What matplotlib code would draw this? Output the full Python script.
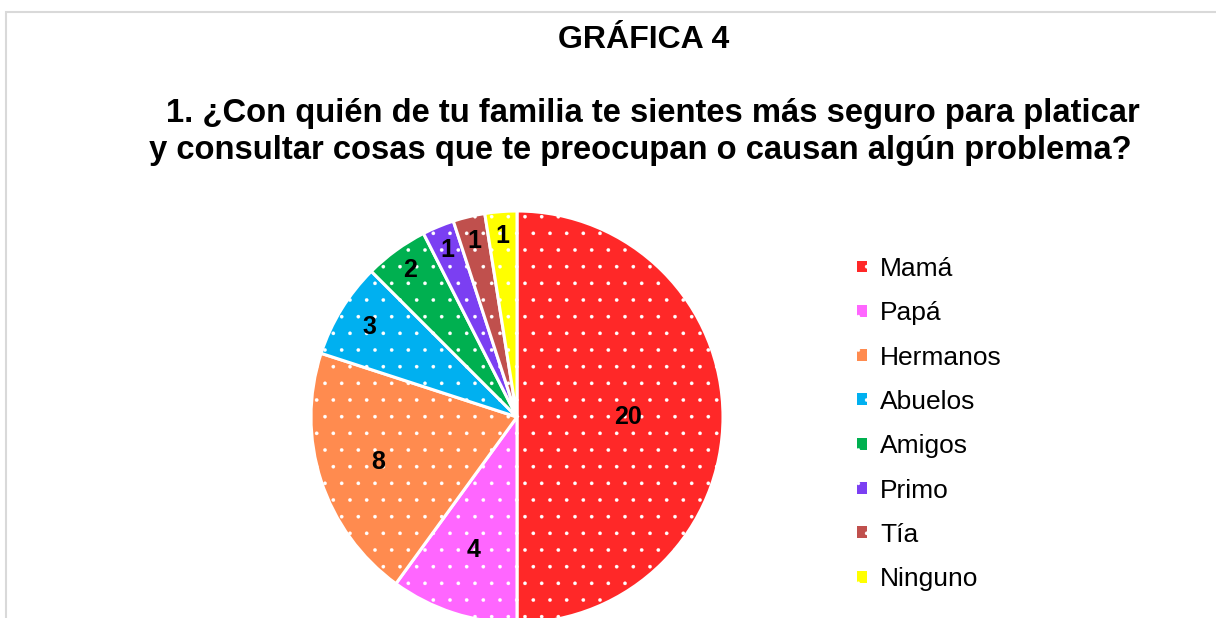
import matplotlib
matplotlib.use("Agg")
import matplotlib.pyplot as plt
from matplotlib.patches import Patch, Rectangle
import numpy as np

categories = ["Mamá", "Papá", "Hermanos", "Abuelos", "Amigos", "Primo", "Tía", "Ninguno"]
values = [20, 4, 8, 3, 2, 1, 1, 1]
colors = ["#FF2828", "#FF66FF", "#FF8B4F", "#00B0F0", "#00B050", "#7B3FF2", "#C0504D", "#FFFF00"]
label_radius = [0.54, 0.68, 0.71, 0.84, 0.88, 0.88, 0.88, 0.88]

title_main = "GRÁFICA 4"
title_q = "1. ¿Con quién de tu familia te sientes más seguro para platicar\ny consultar cosas que te preocupan o causan algún problema?"

plt.rcParams['font.family'] = ['Liberation Sans', 'DejaVu Sans']
plt.rcParams['hatch.linewidth'] = 0.2

W, H = 1216, 618
fig = plt.figure(figsize=(W / 100, H / 100), dpi=100)

# border
fig.patches.append(Rectangle((5.5 / W, -0.5), 2.0, 0.5 + 1 - 11.5 / H,
                             transform=fig.transFigure,
                             fill=False, edgecolor="#D9D9D9", linewidth=1.5))

cx, cy, r = 517, 417, 206
ax = fig.add_axes([(cx - r) / W, (H - cy - r) / H, 2 * r / W, 2 * r / H])
wedges, _ = ax.pie(values, colors=colors, startangle=90, counterclock=False,
                   wedgeprops=dict(edgecolor="white", linewidth=2.2),
                   radius=1.0)
for w in wedges:
    w.set_hatch('.')
ax.set_xlim(-1, 1)
ax.set_ylim(-1, 1)
ax.set_aspect('equal')
ax.axis('off')

for w, v, lr in zip(wedges, values, label_radius):
    ang = np.deg2rad((w.theta1 + w.theta2) / 2)
    ax.text(lr * np.cos(ang), lr * np.sin(ang), str(v), ha='center', va='center',
            fontsize=18, fontweight='bold', color='black')

fig.text(644 / W, 1 - 48 / H, title_main, ha='center', va='baseline',
         fontsize=23, fontweight='bold')
lines = title_q.split("\n")
fig.text(653 / W, 1 - 122 / H, lines[0], ha='center', va='baseline',
         fontsize=23.6, fontweight='bold')
fig.text(640 / W, 1 - 159 / H, lines[1], ha='center', va='baseline',
         fontsize=23.6, fontweight='bold')

handles = [Patch(facecolor=c, edgecolor='white', hatch='.', linewidth=0) for c in colors]
fig.legend(handles, categories, loc='upper left', bbox_to_anchor=(857 / W, 1 - 257 / H),
           frameon=False, fontsize=19, handlelength=0.36, handleheight=0.32,
           handletextpad=0.52, labelspacing=0.77, borderpad=0, borderaxespad=0)

fig.savefig("out.png", dpi=100)
